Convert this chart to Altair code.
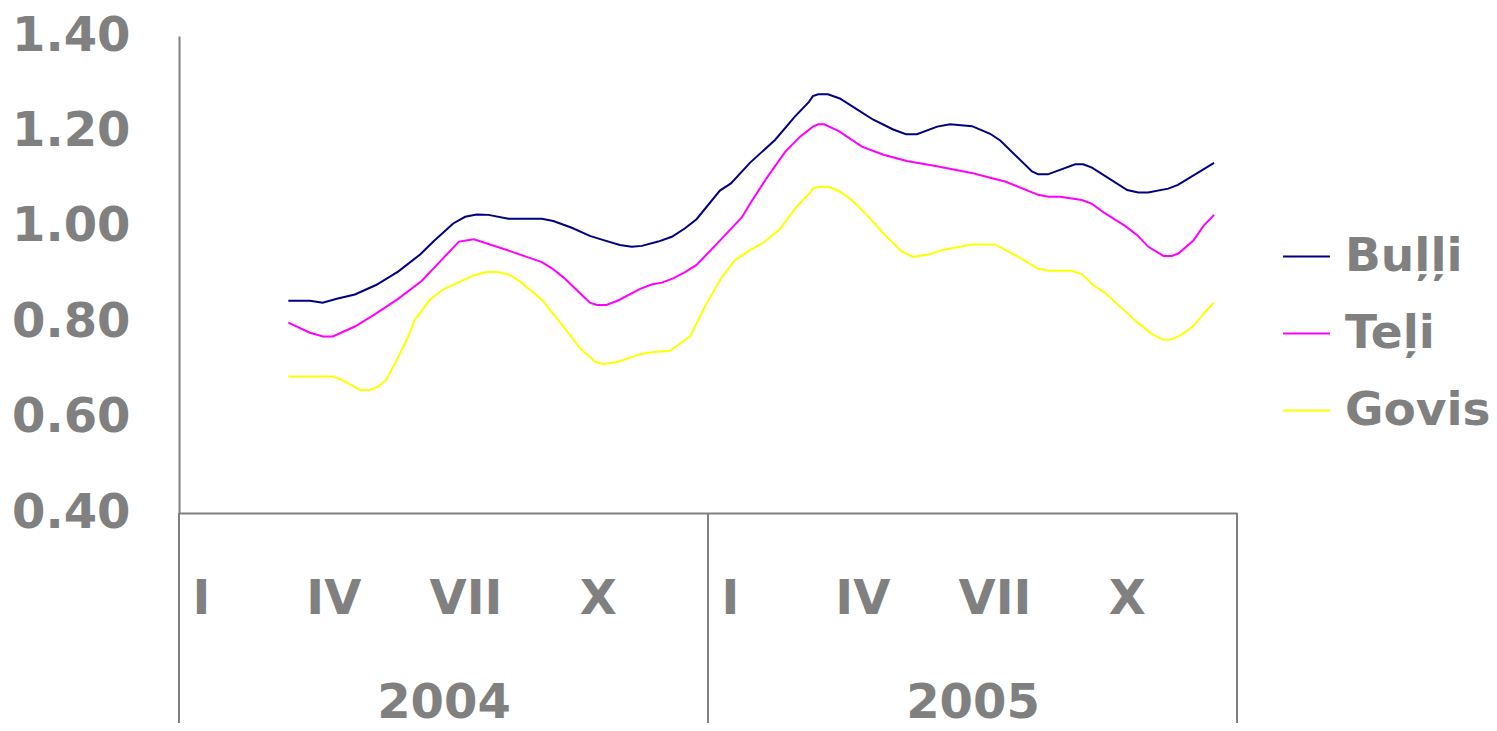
import altair as alt
import pandas as pd

# Month index: 0 = start of Jan 2004, 24 = end of Dec 2005
bulli_m = [2.48, 2.97, 3.26, 3.58, 3.99, 4.47, 4.97, 5.47, 5.77, 6.22, 6.49, 6.75, 7.02, 7.47,
           8.23, 8.49, 8.91, 9.32, 9.63, 10.00, 10.27, 10.50, 10.87, 11.18, 11.48, 11.74,
           12.27, 12.52, 12.95, 13.52, 13.97, 14.29, 14.38, 14.50, 14.72, 14.99, 15.38, 15.74,
           16.20, 16.49, 16.74, 17.20, 17.49, 17.99, 18.40, 18.63, 19.35, 19.49, 19.71, 20.33,
           20.51, 20.71, 21.51, 21.76, 21.98, 22.44, 22.66, 23.48]
bulli_v = [0.845, 0.845, 0.841, 0.849, 0.858, 0.878, 0.906, 0.942, 0.969, 1.007, 1.021, 1.026, 1.025, 1.017,
           1.017, 1.012, 0.998, 0.981, 0.972, 0.962, 0.958, 0.960, 0.969, 0.979, 0.997, 1.016,
           1.076, 1.091, 1.134, 1.182, 1.231, 1.262, 1.274, 1.278, 1.278, 1.269, 1.246, 1.225,
           1.204, 1.194, 1.194, 1.210, 1.215, 1.211, 1.195, 1.181, 1.116, 1.110, 1.110, 1.131,
           1.131, 1.124, 1.077, 1.072, 1.072, 1.080, 1.088, 1.134]

teli_m = [2.48, 2.97, 3.27, 3.49, 3.99, 4.45, 4.97, 5.51, 5.92, 6.35, 6.69, 7.09, 7.51, 7.92,
          8.23, 8.46, 8.72, 8.98, 9.32, 9.48, 9.70, 9.97, 10.46, 10.72, 10.95, 11.21, 11.48, 11.74,
          12.27, 12.77, 12.95, 13.33, 13.75, 14.09, 14.38, 14.50, 14.63, 14.96, 15.49, 15.98,
          16.51, 17.19, 17.98, 18.40, 18.74, 19.49, 19.72, 19.99, 20.48, 20.71, 21.01, 21.46,
          21.73, 21.99, 22.33, 22.52, 22.67, 23.01, 23.24, 23.48]
teli_v = [0.799, 0.778, 0.770, 0.770, 0.791, 0.817, 0.849, 0.887, 0.927, 0.969, 0.974, 0.962, 0.949, 0.936,
          0.926, 0.913, 0.894, 0.871, 0.841, 0.836, 0.836, 0.846, 0.870, 0.879, 0.883, 0.892, 0.905, 0.920,
          0.971, 1.020, 1.048, 1.102, 1.157, 1.189, 1.210, 1.215, 1.215, 1.201, 1.168, 1.151,
          1.138, 1.127, 1.113, 1.103, 1.095, 1.067, 1.063, 1.063, 1.056, 1.048, 1.028, 1.002,
          0.983, 0.958, 0.939, 0.939, 0.944, 0.971, 1.002, 1.025]

govis_m = [2.48, 3.49, 3.69, 4.11, 4.33, 4.52, 4.70, 4.94, 5.20, 5.35, 5.69, 6.00, 6.30, 6.68,
           6.98, 7.24, 7.51, 7.74, 8.23, 8.60, 9.10, 9.44, 9.63, 9.97, 10.46, 10.72, 11.14, 11.59,
           11.97, 12.31, 12.61, 12.95, 13.26, 13.63, 14.01, 14.30, 14.39, 14.54, 14.73, 14.99,
           15.26, 15.60, 15.98, 16.40, 16.66, 17.00, 17.30, 17.98, 18.51, 19.00, 19.49, 19.72,
           20.25, 20.48, 20.74, 21.01, 21.39, 21.76, 22.07, 22.33, 22.48, 22.71, 23.01, 23.28, 23.48]
govis_v = [0.686, 0.686, 0.679, 0.658, 0.658, 0.665, 0.679, 0.721, 0.770, 0.805, 0.847, 0.869, 0.882, 0.898,
           0.905, 0.905, 0.899, 0.885, 0.847, 0.805, 0.745, 0.717, 0.712, 0.717, 0.733, 0.737, 0.740, 0.770,
           0.840, 0.894, 0.930, 0.951, 0.967, 0.995, 1.042, 1.070, 1.081, 1.084, 1.084, 1.074,
           1.056, 1.025, 0.986, 0.948, 0.937, 0.942, 0.951, 0.963, 0.963, 0.939, 0.912, 0.908,
           0.908, 0.901, 0.878, 0.861, 0.829, 0.798, 0.775, 0.763, 0.763, 0.772, 0.792, 0.822, 0.841]

series_names = ["Buļļi", "Teļi", "Govis"]
series_colors = ["#000080", "#FF00FF", "#FFFF00"]

month_pos = [0.5, 3.5, 6.5, 9.5, 12.5, 15.5, 18.5, 21.5]
month_labels = ["I", "IV", "VII", "X", "I", "IV", "VII", "X"]
year_pos = [6, 18]
year_labels = ["2004", "2005"]
year_bounds = [0, 12, 24]
y_ticks = [0.4, 0.6, 0.8, 1.0, 1.2, 1.4]

rows = []
for name, ms, vs in zip(series_names, [bulli_m, teli_m, govis_m], [bulli_v, teli_v, govis_v]):
    for m, v in zip(ms, vs):
        rows.append({"series": name, "month": m, "value": v})
df = pd.DataFrame(rows)

# label expression
expr = "''"
for p, l in zip(month_pos, month_labels):
    expr = f"datum.value == {p} ? '{l}' : ({expr})"
for p, l in zip(year_pos, year_labels):
    expr = f"datum.value == {p} ? ['', '{l}'] : ({expr})"

GRAY = "#808080"
FONT = "DejaVu Sans"

x_scale = alt.Scale(domain=[0, 24], nice=False, zero=False)
y_scale = alt.Scale(domain=[0.4, 1.4], nice=False, zero=False)

lines = alt.Chart(df).mark_line(strokeWidth=2).encode(
    x=alt.X("month:Q", scale=x_scale, title=None,
            axis=alt.Axis(values=sorted(month_pos + year_pos), labelExpr=expr,
                          ticks=False, tickSize=0, grid=False, labelOverlap=False,
                          labelFlush=False, labelBound=False,
                          labelFont=FONT, labelFontSize=48, labelFontWeight="bold",
                          labelColor=GRAY, labelPadding=62, labelLineHeight=104,
                          labelBaseline="top",
                          domainColor=GRAY, domainWidth=2)),
    y=alt.Y("value:Q", scale=y_scale, title=None,
            axis=alt.Axis(values=y_ticks, format=".2f", ticks=False, tickSize=0, grid=False,
                          labelFont=FONT, labelFontSize=48, labelFontWeight="bold",
                          labelColor=GRAY, labelPadding=49,
                          domainColor=GRAY, domainWidth=2)),
    color=alt.Color("series:N",
                    scale=alt.Scale(domain=series_names, range=series_colors),
                    sort=series_names,
                    legend=alt.Legend(title=None, orient="none", legendX=1103, legendY=196,
                                      symbolType="stroke", symbolSize=2200, symbolStrokeWidth=2,
                                      labelFont=FONT, labelFontSize=47, labelFontWeight="bold",
                                      labelColor=GRAY, labelOffset=14, rowPadding=29,
                                      padding=0, labelLimit=400)),
    order=alt.Order("month:Q"),
)

bounds_df = pd.DataFrame({"month": year_bounds})
seps = alt.Chart(bounds_df).mark_rule(color=GRAY, strokeWidth=2).encode(
    x=alt.X("month:Q", scale=x_scale),
    y=alt.value(477),
    y2=alt.value(687),
)

chart = alt.layer(lines, seps).properties(
    width=1058, height=477,
    autosize=alt.AutoSizeParams(type="none"),
    padding={"left": 171, "top": 28, "right": 252, "bottom": 210},
).configure_view(stroke="transparent", strokeWidth=0)

chart.save("out.html", embed_options={"renderer": "svg", "actions": False})
